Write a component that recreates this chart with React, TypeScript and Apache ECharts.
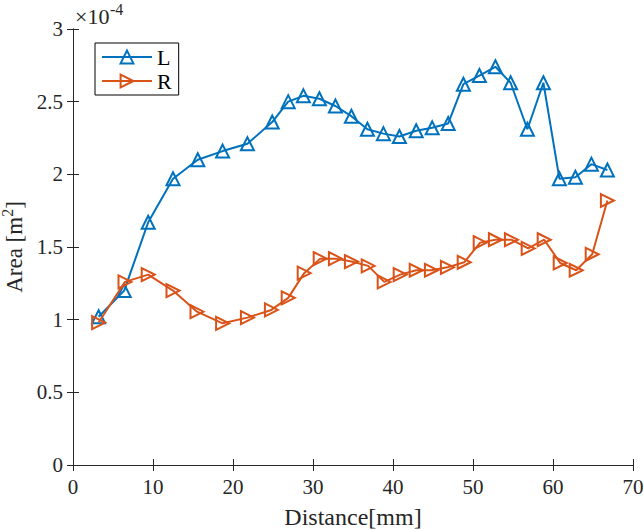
import React, { useEffect, useRef } from 'react';
import * as echarts from 'echarts';

// distance along the vessel [mm]
const leftDistance = [
  3.2, 6.4, 9.4, 12.5, 15.6, 18.7, 21.8, 24.9, 26.9, 28.8, 30.8, 32.8, 34.8, 36.8, 38.8,
  40.8, 42.9, 44.9, 46.9, 48.8, 50.8, 52.8, 54.7, 56.8, 58.8, 60.8, 62.8, 64.8, 66.8,
];
// area, in units of 1e-4 m^2
const leftArea = [
  1.02, 1.2, 1.67, 1.97, 2.1, 2.16, 2.21, 2.36, 2.5, 2.54, 2.52, 2.47, 2.4, 2.31, 2.28,
  2.26, 2.3, 2.32, 2.35, 2.62, 2.68, 2.74, 2.63, 2.31, 2.63, 1.97, 1.98, 2.07, 2.03,
];

const rightDistance = [
  3.2, 6.5, 9.4, 12.5, 15.5, 18.7, 21.8, 24.8, 26.9, 28.9, 30.9, 32.8, 34.8, 36.9, 38.9,
  40.9, 42.9, 44.8, 46.8, 48.9, 50.9, 52.8, 54.8, 56.9, 58.9, 60.9, 62.9, 64.9, 66.8,
];
const rightArea = [
  0.98, 1.26, 1.31, 1.2, 1.055, 0.975, 1.014, 1.067, 1.15, 1.32, 1.42, 1.42, 1.4, 1.37, 1.26,
  1.31, 1.34, 1.34, 1.36, 1.395, 1.53, 1.55, 1.55, 1.49, 1.55, 1.39, 1.34, 1.45, 1.82,
];

const BLUE = '#0072BD';
const ORANGE = '#D95319';
const INK = '#262626';
const FONT = 'Liberation Serif';

const App: React.FC = () => {
  const chartRef = useRef<HTMLDivElement>(null);

  useEffect(() => {
    if (!chartRef.current) return;
    const chart = echarts.init(chartRef.current, undefined, { renderer: 'svg' });

    const boxAxis = {
      min: 0,
      axisLine: { show: true, lineStyle: { color: INK, width: 1 } },
      axisTick: { show: true, inside: true, length: 6, lineStyle: { color: INK } },
      splitLine: { show: false },
    };

    chart.setOption({
      animation: false,
      textStyle: { fontFamily: FONT },
      grid: { left: 73, top: 29, right: 11, bottom: 65, outerBoundsMode: 'none' },
      legend: {
        left: 95,
        top: 43,
        orient: 'vertical',
        itemWidth: 50,
        itemHeight: 16,
        itemGap: 2,
        padding: [3, 7, 3, 6],
        borderColor: '#000',
        borderWidth: 1,
        backgroundColor: '#fff',
        textStyle: { fontFamily: FONT, fontSize: 22, color: '#000', lineHeight: 22 },
        data: ['L', 'R'],
      },
      xAxis: [
        {
          ...boxAxis,
          type: 'value',
          max: 70,
          interval: 10,
          name: 'Distance[mm]',
          nameLocation: 'middle',
          nameGap: 40,
          nameTextStyle: { fontFamily: FONT, fontSize: 24, color: INK },
          axisLabel: { fontFamily: FONT, fontSize: 21, color: INK, margin: 11 },
        },
        {
          ...boxAxis,
          type: 'value',
          position: 'top',
          max: 70,
          interval: 10,
          axisLabel: { show: false },
        },
      ],
      yAxis: [
        {
          ...boxAxis,
          type: 'value',
          max: 3,
          interval: 0.5,
          name: '{t|Area [m}{s|2}{t|]}',
          nameLocation: 'middle',
          nameGap: 43,
          nameTextStyle: {
            rich: {
              t: { fontFamily: FONT, fontSize: 23, color: INK, lineHeight: 30 },
              s: { fontFamily: FONT, fontSize: 16, color: INK, lineHeight: 16, verticalAlign: 'top' },
            },
          },
          axisLabel: { fontFamily: FONT, fontSize: 21, color: INK, margin: 10 },
        },
        {
          ...boxAxis,
          type: 'value',
          position: 'right',
          max: 3,
          interval: 0.5,
          axisLabel: { show: false },
        },
      ],
      graphic: [
        {
          type: 'text',
          left: 75,
          top: 5,
          style: { text: '×10', fontFamily: FONT, fontSize: 22, fill: INK },
        },
        {
          type: 'text',
          left: 110,
          top: 1,
          style: { text: '-4', fontFamily: FONT, fontSize: 16, fill: INK },
        },
      ],
      series: [
        {
          name: 'L',
          type: 'line',
          data: leftDistance.map((d, i) => [d, leftArea[i]]),
          symbol: 'triangle',
          symbolSize: 13,
          showAllSymbol: true,
          lineStyle: { color: BLUE, width: 2 },
          itemStyle: { color: 'rgba(255,255,255,0)', borderColor: BLUE, borderWidth: 2 },
          z: 2,
        },
        {
          name: 'R',
          type: 'line',
          data: rightDistance.map((d, i) => [d, rightArea[i]]),
          symbol: 'triangle',
          symbolRotate: -90,
          symbolSize: 13,
          showAllSymbol: true,
          lineStyle: { color: ORANGE, width: 2 },
          itemStyle: { color: 'rgba(255,255,255,0)', borderColor: ORANGE, borderWidth: 2 },
          z: 3,
        },
      ],
    });

    return () => {
      chart.dispose();
    };
  }, []);

  return (
    <div
      ref={chartRef}
      style={{ position: 'fixed', left: 0, top: 0, width: 644, height: 530, background: '#fff' }}
    />
  );
};

export default App;
